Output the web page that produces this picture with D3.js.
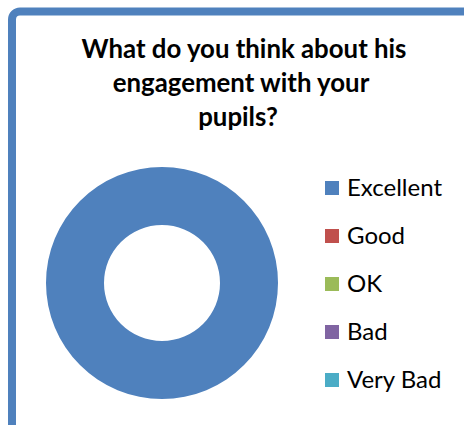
<!DOCTYPE html>
<html>
<head>
<meta charset="utf-8">
<script src="https://cdn.jsdelivr.net/npm/d3@7"></script>
<style>
  html, body { margin: 0; padding: 0; background: #fff; }
  svg { display: block; }
</style>
</head>
<body>
<svg id="chart" width="464" height="425"></svg>
<script>
const categories = ["Excellent", "Good", "OK", "Bad", "Very Bad"];
const values = [12, 0, 0, 0, 0];
const colors = ["#4F81BD", "#C0504D", "#9BBB59", "#8064A2", "#4BACC6"];
const titleLines = ["What do you think about his", "engagement with your", "pupils?"];

const svg = d3.select("#chart");
const FONT = "Lato, 'Open Sans', sans-serif";

// Chart frame (rounded border, clipped by the window at right and bottom)
svg.append("rect")
  .attr("x", 12).attr("y", 11.5)
  .attr("width", 480).attr("height", 440)
  .attr("rx", 8).attr("ry", 8)
  .attr("fill", "#fff")
  .attr("stroke", "#4F81BD")
  .attr("stroke-width", 8);

// Title
const titleCenters = [244, 241, 238];
const titleBase = [58, 92, 126];
svg.append("g").selectAll("text")
  .data(titleLines)
  .join("text")
  .attr("x", (d, i) => titleCenters[i])
  .attr("y", (d, i) => titleBase[i])
  .attr("text-anchor", "middle")
  .attr("font-family", FONT)
  .attr("font-weight", "bold")
  .attr("font-size", 25.8)
  .attr("fill", "#000")
  .text(d => d);

// Donut
const cx = 162, cy = 283, rOuter = 116, rInner = 58;
const color = d3.scaleOrdinal().domain(categories).range(colors);
const pie = d3.pie().sort(null).value(d => d.value);
const arc = d3.arc().innerRadius(rInner).outerRadius(rOuter);
const data = categories.map((c, i) => ({ cat: c, value: values[i] }));

svg.append("g")
  .attr("transform", `translate(${cx},${cy})`)
  .selectAll("path")
  .data(pie(data).filter(d => d.data.value > 0))
  .join("path")
  .attr("d", arc)
  .attr("fill", d => color(d.data.cat));

// Legend
const legendY = d3.scalePoint().domain(categories).range([188, 380]);
const lg = svg.append("g").selectAll("g")
  .data(categories)
  .join("g")
  .attr("transform", d => `translate(325,${legendY(d)})`);
lg.append("rect")
  .attr("x", 0).attr("y", -7)
  .attr("width", 14).attr("height", 14)
  .attr("fill", d => color(d));
lg.append("text")
  .attr("x", 22).attr("y", 8)
  .attr("font-family", FONT)
  .attr("font-size", 24)
  .attr("fill", "#000")
  .text(d => d);
</script>
</body>
</html>
